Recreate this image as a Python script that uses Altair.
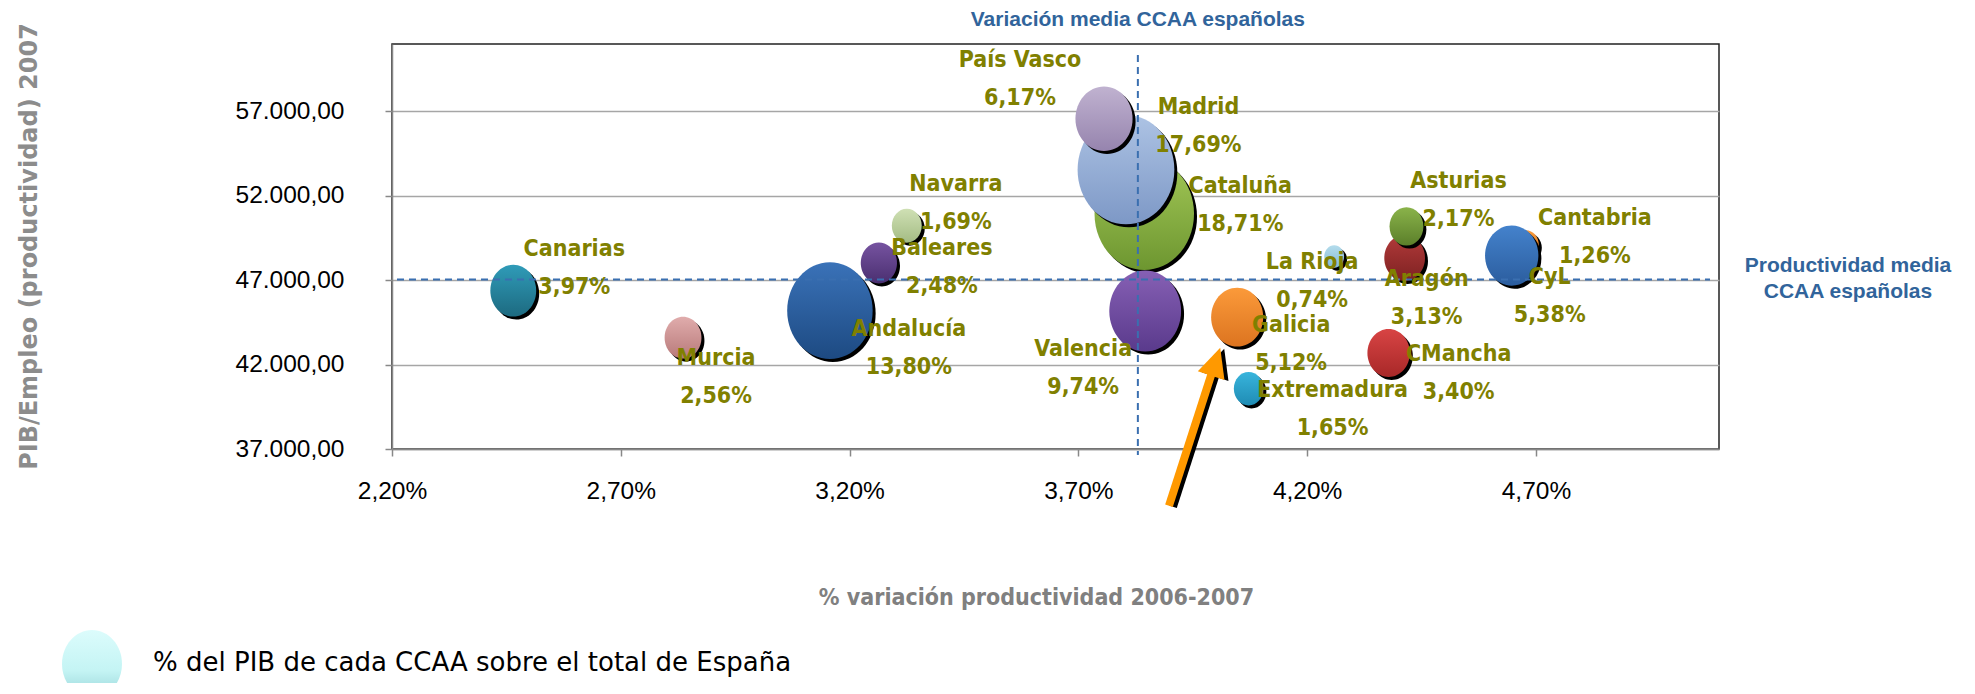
import altair as alt
import pandas as pd

# ---------------- data ----------------
regions = ["Andalucía", "Aragón", "Asturias", "Baleares", "Canarias", "Cantabria",
           "CyL", "CMancha", "Cataluña", "Valencia", "Extremadura", "Galicia",
           "Madrid", "Murcia", "Navarra", "País Vasco", "La Rioja"]
var_prod = [3.157, 4.413, 4.417, 3.264, 2.465, 4.678, 4.647, 4.378, 3.844, 3.846,
            4.072, 4.047, 3.804, 2.836, 3.325, 3.756, 4.259]          # % variación 2006-2007
productividad = [45200, 48320, 50190, 48020, 46380, 49100, 48460, 42690, 50940, 45180,
                 40570, 44810, 53550, 43600, 50230, 56570, 48410]     # PIB/Empleo 2007
pib_share = [13.80, 3.13, 2.17, 2.48, 3.97, 1.26, 5.38, 3.40, 18.71, 9.74,
             1.65, 5.12, 17.69, 2.56, 1.69, 6.17, 0.74]               # % PIB s/ total España

x_ticks = [2.2, 2.7, 3.2, 3.7, 4.2, 4.7]
y_ticks = [37000, 42000, 47000, 52000, 57000]
mean_var = 3.83
mean_prod = 47050

arrow_x = [3.898, 3.996, 4.010]
arrow_y = [33640, 41877, 43003]

# ---------------- layout / style ----------------
W, H = 1327, 405
LINE_H = 38
colors = {
    "Andalucía": ("#3a72b8", "#1d4a82"),
    "Aragón": ("#b23a3a", "#7e2222"),
    "Asturias": ("#8ab34a", "#5b7f2a"),
    "Baleares": ("#7653a0", "#4a2f70"),
    "Canarias": ("#2f9bb8", "#1d6a80"),
    "Cantabria": ("#f79a3c", "#d87018"),
    "CyL": ("#4482cc", "#2b5d9e"),
    "CMancha": ("#d84444", "#a82828"),
    "Cataluña": ("#a3c857", "#6d9630"),
    "Valencia": ("#8660b4", "#5a3a8c"),
    "Extremadura": ("#38b4dc", "#1f8cb4"),
    "Galicia": ("#fb9a3a", "#dc7420"),
    "Madrid": ("#adc3e4", "#7d98c6"),
    "Murcia": ("#e0acac", "#b87a7a"),
    "Navarra": ("#cfe0b4", "#a4bc84"),
    "País Vasco": ("#c0b2d0", "#9684ae"),
    "La Rioja": ("#b4dcec", "#84bcd8"),
}
# offset (px) of the centre of each two-line label from its bubble centre
label_offsets = {
    "País Vasco": (-84, -39.5), "Madrid": (72.5, -43.5), "Cataluña": (96, -9),
    "Navarra": (49, -22.5), "Baleares": (63, 4), "Andalucía": (79, 37.5),
    "Valencia": (-62, 57), "La Rioja": (-22, 25), "Galicia": (54, 27),
    "Extremadura": (84, 20), "Murcia": (33, 39), "Canarias": (61, -22.5),
    "Asturias": (52, -26), "Cantabria": (69, -8), "Aragón": (22, 40),
    "CyL": (38, 40), "CMancha": (70, 20),
}
draw_order = ["Cataluña", "Madrid", "Andalucía", "Valencia", "País Vasco", "Cantabria",
              "CyL", "Galicia", "Canarias", "CMancha", "Aragón", "Murcia", "Baleares",
              "Asturias", "Navarra", "Extremadura", "La Rioja"]

ELLIPSE = ("M1,0 C1,0.624 0.552,1.13 0,1.13 C-0.552,1.13 -1,0.624 -1,0 "
           "C-1,-0.624 -0.552,-1.13 0,-1.13 C0.552,-1.13 1,-0.624 1,0 Z")
HEAD = "M0,0 L-1,2.1 L1,2.1 Z"
LABEL_FONT = "DejaVu Sans Condensed, DejaVu Sans, sans-serif"
BLUE = "#31649b"

df = pd.DataFrame({"region": regions, "var": var_prod, "prod": productividad,
                   "share": pib_share})
df["label"] = [f"{r}\n" + f"{s:.2f}".replace(".", ",") + "%" for r, s in zip(regions, pib_share)]

xs = alt.Scale(domain=[2.2, 5.1], nice=False, zero=False)
ys = alt.Scale(domain=[37000, 61000], nice=False, zero=False)
ss = alt.Scale(domain=[0, 20], range=[0, 10580])

x_axis = alt.Axis(
    values=x_ticks, labelExpr="replace(format(datum.value, '.2f'), '.', ',') + '%'",
    title="% variación productividad 2006-2007", titleFont="DejaVu Sans Condensed",
    titleFontSize=23, titleFontWeight="bold", titleColor="#808080",
    titleX=644, titleY=148, titleAlign="center", titleBaseline="middle",
    labelFont="Liberation Sans", labelFontSize=24.5, labelColor="#000000",
    labelPadding=23, tickSize=7, tickColor="#888888", tickWidth=1.5,
    domainColor="#888888", domainWidth=1.5, grid=False, labelFlush=False,
    labelOverlap=False)
y_axis = alt.Axis(
    values=y_ticks,
    labelExpr="replace(replace(replace(format(datum.value, ',.2f'), ',', '_'), '.', ','), '_', '.')",
    title="PIB/Empleo (productividad) 2007", titleFont="DejaVu Sans",
    titleFontSize=24, titleFontWeight="bold", titleColor="#8c8c8c",
    titleAngle=270, titleX=-363, titleY=202, titleAlign="center", titleBaseline="middle",
    labelFont="Liberation Sans", labelFontSize=24.5, labelColor="#000000",
    labelPadding=41, tickSize=7, tickColor="#888888", tickWidth=1.5,
    domainColor="#888888", domainWidth=1.5, grid=True, gridColor="#a6a6a6",
    gridWidth=1.5, labelOverlap=False)


def X(field):
    return alt.X(field, type="quantitative", scale=xs, axis=x_axis)


def Y(field):
    return alt.Y(field, type="quantitative", scale=ys, axis=y_axis)


base = alt.Chart(df)
layers = [base.mark_point(opacity=0).encode(x=X("var"), y=Y("prod"))]

for r in draw_order:
    light, dark = colors[r]
    grad = alt.LinearGradient(gradient="linear", x1=0, y1=0, x2=0, y2=1,
                              stops=[alt.GradientStop(color=light, offset=0),
                                     alt.GradientStop(color=dark, offset=1)])
    sub = base.transform_filter(alt.datum.region == r)
    enc = dict(x=X("var"), y=Y("prod"),
               size=alt.Size("share:Q", scale=ss, legend=None))
    layers.append(sub.mark_point(shape=ELLIPSE, filled=True, fill="#000000", opacity=1,
                                 strokeWidth=0, xOffset=3, yOffset=3).encode(**enc))
    layers.append(sub.mark_point(shape=ELLIPSE, filled=True, fill=grad, opacity=1,
                                 strokeWidth=0).encode(**enc))

mean_df = pd.DataFrame({"mx": [mean_var], "my": [mean_prod]})
mb = alt.Chart(mean_df)
layers.append(mb.mark_rule(color="#3a6fb0", strokeWidth=2, strokeDash=[7, 5]).encode(
    x=X("mx"), y=alt.value(11), y2=alt.value(411)))
layers.append(mb.mark_rule(color="#3a6fb0", strokeWidth=2, strokeDash=[7, 5]).encode(
    y=Y("my"), x=alt.value(5), x2=alt.value(1318)))

# bubble labels (first line is drawn at the anchor, so shift up half a line)
for r in regions:
    dx, dy = label_offsets[r]
    layers.append(base.transform_filter(alt.datum.region == r).mark_text(
        font=LABEL_FONT, fontSize=23, fontWeight="bold", color="#808000",
        align="center", baseline="middle", lineBreak="\n", lineHeight=LINE_H,
        dx=dx, dy=dy - LINE_H / 2).encode(x=X("var"), y=Y("prod"), text="label:N"))

# annotations
layers.append(mb.mark_text(text="Variación media CCAA españolas", font="Liberation Sans",
                           fontSize=21, fontWeight="bold", color=BLUE, align="center",
                           baseline="middle").encode(x=X("mx"), y=alt.value(-24)))
layers.append(mb.mark_text(text="Productividad media\nCCAA españolas", lineBreak="\n",
                           lineHeight=26, font="Liberation Sans", fontSize=21,
                           fontWeight="bold", color=BLUE, align="center",
                           baseline="middle", yOffset=-13).encode(
    y=Y("my"), x=alt.value(1456)))

# arrow
arrow_df = pd.DataFrame({"x0": [arrow_x[0]], "y0": [arrow_y[0]], "x1": [arrow_x[1]],
                         "y1": [arrow_y[1]], "xt": [arrow_x[2]], "yt": [arrow_y[2]]})
ab = alt.Chart(arrow_df)
for col, off in (("#000000", 4), ("#ff9900", 0)):
    layers.append(ab.mark_rule(color=col, strokeWidth=8, xOffset=off, x2Offset=off,
                               yOffset=off / 4, y2Offset=off / 4).encode(
        x=X("x0"), y=Y("y0"), x2="x1:Q", y2="y1:Q"))
    layers.append(ab.mark_point(shape=HEAD, size=784, angle=18, filled=True, fill=col,
                                opacity=1, strokeWidth=0, xOffset=off,
                                yOffset=off / 4).encode(x=X("xt"), y=Y("yt")))

# legend
leg_grad = alt.LinearGradient(gradient="linear", x1=0, y1=0, x2=0, y2=1,
                              stops=[alt.GradientStop(color="#dcfcfc", offset=0),
                                     alt.GradientStop(color="#c4f4f4", offset=0.6),
                                     alt.GradientStop(color="#98d4d8", offset=1)])
legend_df = pd.DataFrame({"t": ["% del PIB de cada CCAA sobre el total de España"]})
lb = alt.Chart(legend_df)
layers.append(lb.mark_point(shape=ELLIPSE, size=3600, filled=True, fill=leg_grad, opacity=1,
                            strokeWidth=0).encode(x=alt.value(-300), y=alt.value(620)))
layers.append(lb.mark_text(font="DejaVu Sans", fontSize=26, color="#000000", align="left",
                           baseline="middle").encode(
    x=alt.value(-239), y=alt.value(619), text="t:N"))

chart = alt.layer(*layers).properties(
    width=W, height=H,
    autosize=alt.AutoSizeParams(type="none"),
    padding={"left": 384, "top": 36, "right": 246, "bottom": 234},
    background="white",
).configure_view(stroke="#222222", strokeWidth=1.5)

chart.save("out.html", embed_options={"renderer": "svg", "actions": False})
